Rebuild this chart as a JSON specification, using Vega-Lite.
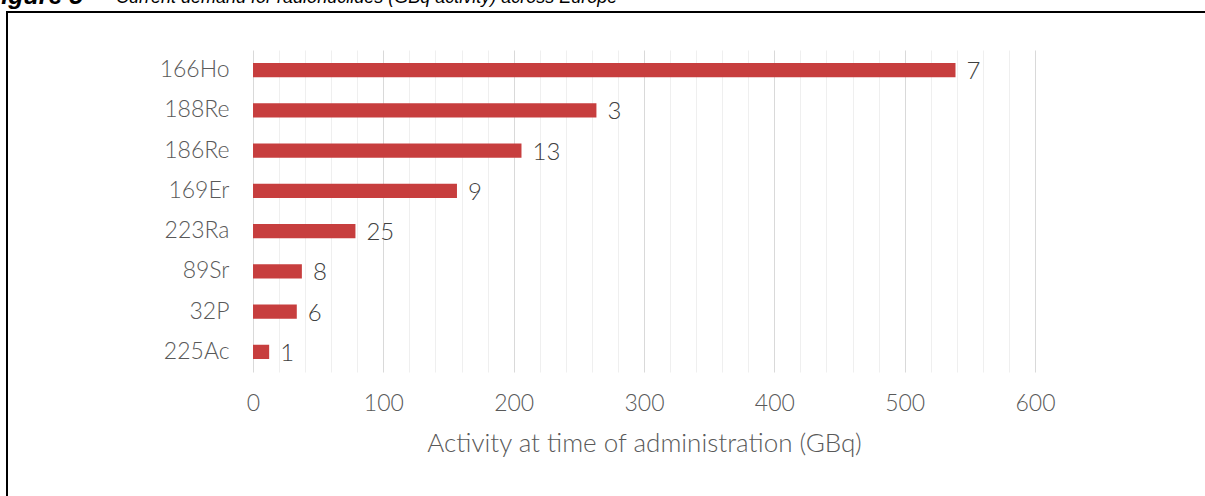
{
  "$schema": "https://vega.github.io/schema/vega-lite/v6.json",
  "width": 1205,
  "height": 492,
  "autosize": {"type": "none"},
  "padding": {"left": 7, "top": 12, "right": 0, "bottom": 0},
  "background": "white",
  "title": {
    "text": "\u200b\u00a0\u00a0\u00a0\u00a0\u00a0\u00a0\u00a0\u00a0\u00a0\u00a0\u00a0\u00a0\u00a0\u00a0\u00a0\u00a0\u00a0\u00a0\u00a0\u00a0\u00a0\u00a0\u00a0\u00a0\u00a0\u00a0Current demand for radionuclides (GBq activity) across Europe",
    "subtitle": "Figure 5",
    "anchor": "start",
    "frame": "group",
    "font": "Liberation Sans",
    "fontSize": 18,
    "fontStyle": "italic",
    "fontWeight": "normal",
    "color": "black",
    "subtitleFont": "Liberation Sans",
    "subtitleFontSize": 25,
    "subtitleFontStyle": "italic",
    "subtitleFontWeight": "bold",
    "subtitleColor": "black",
    "subtitlePadding": -23,
    "offset": -2,
    "dx": -21
  },
  "data": {
    "values": [
      {"nuclide": "166Ho", "activity": 539, "count": 7},
      {"nuclide": "188Re", "activity": 263.5, "count": 3},
      {"nuclide": "186Re", "activity": 206, "count": 13},
      {"nuclide": "169Er", "activity": 156.5, "count": 9},
      {"nuclide": "223Ra", "activity": 78.6, "count": 25},
      {"nuclide": "89Sr", "activity": 37.5, "count": 8},
      {"nuclide": "32P", "activity": 33.6, "count": 6},
      {"nuclide": "225Ac", "activity": 12.4, "count": 1}
    ]
  },
  "encoding": {
    "y": {
      "field": "nuclide",
      "type": "nominal",
      "sort": null,
      "scale": {"range": [38, 360], "paddingInner": 0.65, "paddingOuter": 0.325},
      "axis": {
        "title": null,
        "ticks": false,
        "domain": false,
        "grid": false,
        "offset": -246,
        "labelPadding": 24,
        "labelFontSize": 23,
        "labelFont": "Lato",
        "labelFontWeight": 300,
        "labelColor": "#595959"
      }
    }
  },
  "layer": [
    {
      "mark": {"type": "bar", "color": "#C73E3E"},
      "encoding": {
        "x": {
          "field": "activity",
          "type": "quantitative",
          "scale": {"domain": [0, 600], "range": [246, 1028], "nice": false},
          "axis": {
            "orient": "top",
            "values": [0, 20, 40, 60, 80, 100, 120, 140, 160, 180, 200, 220, 240, 260, 280, 300, 320, 340, 360, 380, 400, 420, 440, 460, 480, 500, 520, 540, 560, 580, 600],
            "labels": false,
            "grid": true,
            "gridColor": {"condition": {"test": "datum.value % 100 === 0", "value": "#D9D9D9"}, "value": "#EFEFEF"},
            "gridWidth": 1,
            "ticks": false,
            "domain": false,
            "title": null
          }
        }
      }
    },
    {
      "mark": {"type": "text", "align": "left", "dx": 11, "dy": 2, "fontSize": 24, "font": "Lato", "fontWeight": 300, "color": "#404040"},
      "encoding": {
        "x": {
          "field": "activity",
          "type": "quantitative",
          "scale": {"domain": [0, 600], "range": [246, 1028], "nice": false},
          "axis": {
            "orient": "bottom",
            "values": [0, 100, 200, 300, 400, 500, 600],
            "labelOverlap": false,
            "labelFlush": false,
            "grid": false,
            "ticks": false,
            "domain": false,
            "offset": -132,
            "labelPadding": 20,
            "labelFontSize": 23,
            "labelFont": "Lato",
            "labelFontWeight": 300,
            "labelColor": "#595959",
            "title": "Activity at time of administration (GBq)",
            "titleFontSize": 26,
            "titleFont": "Lato",
            "titleFontWeight": 300,
            "titleColor": "#595959",
            "titlePadding": 15
          }
        },
        "text": {"field": "count", "type": "quantitative"}
      }
    }
  ],
  "resolve": {"axis": {"x": "independent"}},
  "config": {"view": {"stroke": "black", "strokeWidth": 2}}
}
